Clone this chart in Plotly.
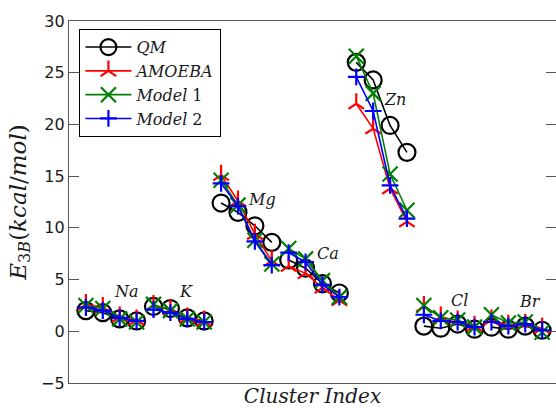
import plotly.graph_objects as go

# Three-body interaction energies per cluster, four clusters per ion
ions = ["Na", "K", "Mg", "Ca", "Zn", "Cl", "Br"]
clusters_per_ion = 4

qm = [2.0, 1.8, 1.2, 1.0,
      2.4, 2.2, 1.3, 1.0,
      12.4, 11.5, 10.2, 8.6,
      6.9, 6.1, 4.6, 3.7,
      26.0, 24.3, 19.9, 17.3,
      0.5, 0.3, 0.7, 0.2,
      0.4, 0.2, 0.5, 0.1]
amoeba = [2.6, 2.3, 1.4, 1.1,
          2.5, 2.1, 1.3, 1.0,
          15.1, 12.6, 9.4, 6.8,
          6.3, 5.6, 4.2, 3.0,
          22.0, 19.6, 13.8, 10.6,
          2.4, 1.4, 1.0, 0.5,
          1.1, 0.6, 0.7, 0.3]
model1 = [2.5, 2.2, 1.2, 0.9,
          2.6, 2.0, 1.2, 0.9,
          14.6, 12.2, 8.8, 6.5,
          8.0, 7.0, 4.9, 3.3,
          26.6, 23.0, 15.2, 11.7,
          2.5, 1.3, 1.1, 0.4,
          1.6, 0.8, 0.9, -0.1]
model2 = [2.3, 2.0, 1.3, 1.0,
          2.1, 1.8, 1.2, 0.9,
          14.3, 12.1, 8.7, 6.4,
          7.6, 6.7, 4.5, 3.3,
          24.6, 21.3, 14.1, 10.9,
          1.6, 1.0, 0.9, 0.4,
          0.9, 0.5, 0.7, 0.1]

# Ion label anchors (cluster index, energy)
label_x = [3.4, 6.95, 11.4, 15.3, 19.3, 23.1, 27.3]
label_y = [3.8, 3.8, 12.7, 7.5, 22.4, 3.0, 2.85]

y_ticks = [-5, 0, 5, 10, 15, 20, 25, 30]

SERIF = "DejaVu Serif"
TEXT = "#1a1a1a"


def segmented(values):
    """Split a series into per-ion segments separated by gaps."""
    xs, ys = [], []
    for g in range(len(ions)):
        for k in range(clusters_per_ion):
            i = g * clusters_per_ion + k
            xs.append(i + 1)
            ys.append(values[i])
        xs.append(None)
        ys.append(None)
    return xs, ys


series = [
    ("<i>QM</i>", qm, "black", "circle-open", 17),
    ("<i>AMOEBA</i>", amoeba, "red", "y-up", 13),
    ("<i>Model</i> 1", model1, "green", "x-thin-open", 15),
    ("<i>Model</i> 2", model2, "blue", "cross-thin-open", 12),
]

fig = go.Figure()
for name, vals, color, symbol, size in series:
    xs, ys = segmented(vals)
    fig.add_trace(go.Scatter(
        x=xs, y=ys, name=name, mode="lines+markers",
        line=dict(color=color, width=1.6),
        marker=dict(symbol=symbol, size=size, color=color,
                    line=dict(color=color, width=2.2)),
        connectgaps=False,
    ))

# Empty trace carrying the right-hand tick marks
fig.add_trace(go.Scatter(x=[None], y=[None], yaxis="y2", showlegend=False,
                         hoverinfo="skip"))

for name, lx, ly in zip(ions, label_x, label_y):
    fig.add_annotation(x=lx, y=ly, text=f"<i>{name}</i>", showarrow=False,
                       font=dict(family=SERIF, size=16, color=TEXT),
                       xanchor="center", yanchor="middle")

axis_line = "#555"
fig.update_layout(
    width=556, height=408,
    margin=dict(l=69, r=0, t=21, b=25),
    paper_bgcolor="white", plot_bgcolor="white",
    showlegend=True,
    legend=dict(
        x=0.021, y=0.978, xanchor="left", yanchor="top",
        bgcolor="white", bordercolor="black", borderwidth=1.2,
        font=dict(family=SERIF, size=16, color=TEXT),
        itemwidth=46, tracegroupgap=0,
    ),
    xaxis=dict(
        range=[0, 28.82], showgrid=False, zeroline=False,
        showline=True, linecolor=axis_line, linewidth=1.3, mirror=True,
        showticklabels=False, ticks="",
        title=dict(text="<i>Cluster Index</i>", standoff=9,
                   font=dict(family=SERIF, size=20, color=TEXT)),
        automargin=False,
    ),
    yaxis=dict(
        range=[-5, 30], tickvals=y_ticks, showgrid=False, zeroline=False,
        showline=True, linecolor=axis_line, linewidth=1.3,
        ticks="inside", ticklen=10, tickwidth=1.2, tickcolor=axis_line,
        tickfont=dict(family="DejaVu Sans", size=16, color=TEXT),
        title=dict(text="<i>E</i><sub>3<i>B</i></sub>(<i>kcal</i>/<i>mol</i>)",
                   standoff=8,
                   font=dict(family=SERIF, size=23, color=TEXT)),
        automargin=False,
    ),
    yaxis2=dict(
        range=[-5, 30], tickvals=y_ticks, overlaying="y", side="right",
        anchor="x", showgrid=False, zeroline=False, showline=False,
        ticks="inside", ticklen=10, tickwidth=1.2, tickcolor=axis_line,
        showticklabels=False,
    ),
)

fig.write_html("out.html")
